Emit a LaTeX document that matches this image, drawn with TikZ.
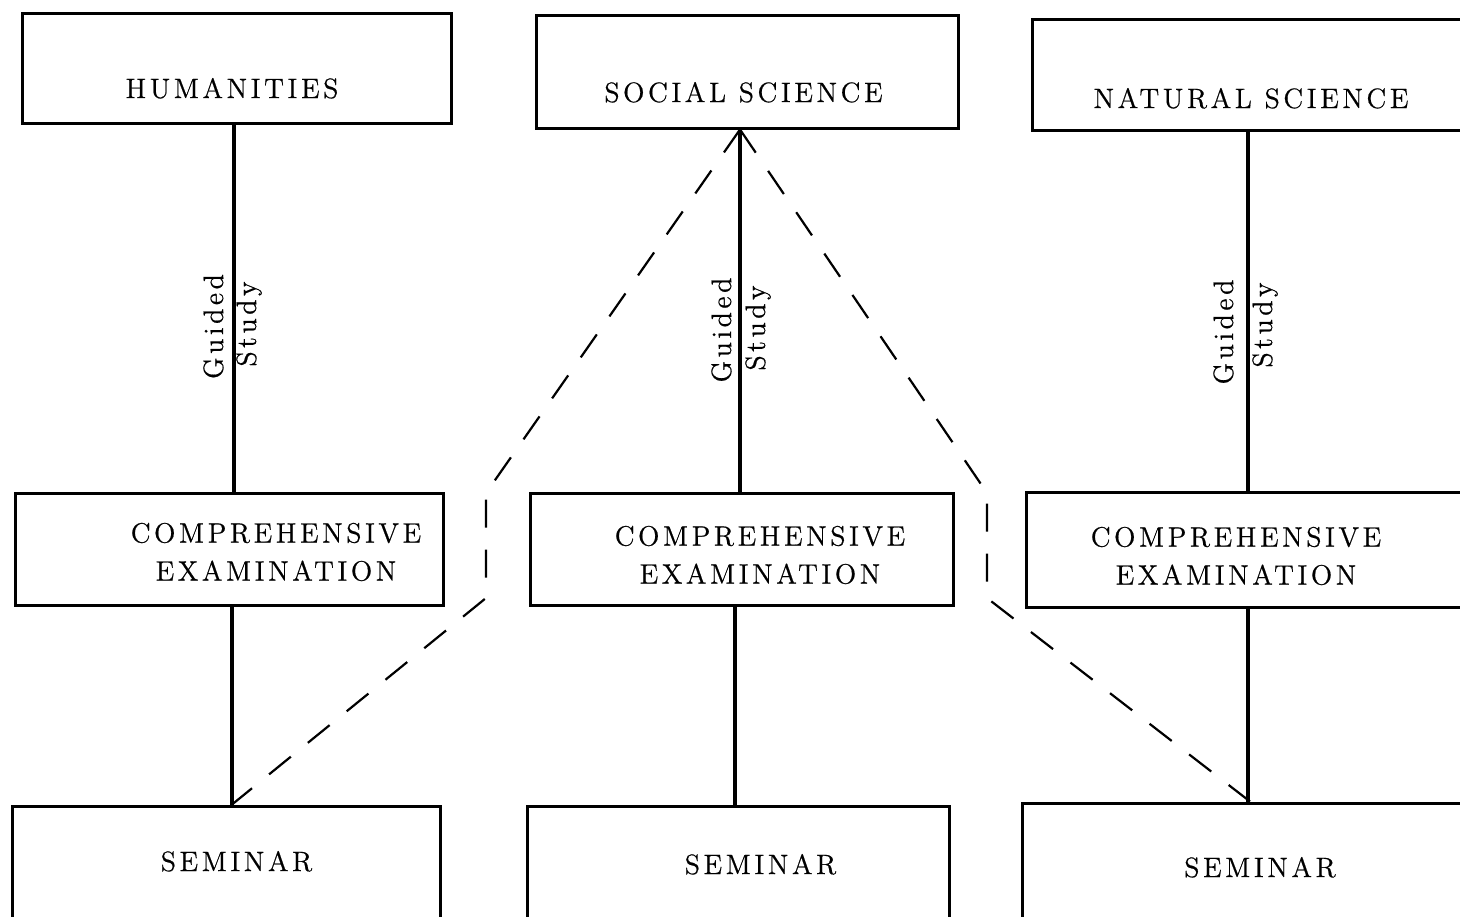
\documentclass[tikz,border=0pt]{standalone}
\usepackage{fontspec}
\newfontfamily\labfont{Latin Modern Roman}[LetterSpace=12.7,FakeBold=0.6]
\begin{document}
\begin{tikzpicture}[x=0.5pt,y=-0.5pt,
  box/.style={draw,line width=1.5pt,inner sep=0pt},
  lab/.style={inner sep=0pt,font={\labfont\fontsize{14}{19}\selectfont},align=center},
  conn/.style={line width=1.6pt},
  dashline/.style={line width=1.1pt,dash pattern=on 14pt off 11pt}]
\useasboundingbox (0,0) rectangle (1460,916);
\clip (0,0) rectangle (1460,916);
% column coordinates
\coordinate (hxa) at (234,0);
\coordinate (hxb) at (232,0);
\coordinate (sxa) at (740,0);
\coordinate (sxb) at (735,0);
\coordinate (nx) at (1248,0);
% boxes
\node[box,minimum width=214.5pt,minimum height=55pt] (h1) at (236.5,68) {};
\node[box,minimum width=211pt,minimum height=56.5pt] (s1) at (747,71.5) {};
\node[box,minimum width=216pt,minimum height=55.5pt] (n1) at (1248,74.5) {};
\node[box,minimum width=214pt,minimum height=56pt] (h2) at (229,549) {};
\node[box,minimum width=211.5pt,minimum height=56pt] (s2) at (741.5,549) {};
\node[box,minimum width=222pt,minimum height=57.5pt] (n2) at (1248,549.5) {};
\node[box,minimum width=214pt,minimum height=62pt] (h3) at (226,868) {};
\node[box,minimum width=211pt,minimum height=62pt] (s3) at (738,868) {};
\node[box,minimum width=226pt,minimum height=63.5pt] (n3) at (1248,866.5) {};
% texts
\node[lab,anchor=base] (th1) at (232,98) {HUMANITIES};
\node[lab,anchor=base] (ts1) at (743.5,102) {SOCIAL SCIENCE};
\node[lab,anchor=base] (tn1) at (1251,108) {NATURAL SCIENCE};
\node[lab] (th2) at (276,552) {COMPREHENSIVE\\EXAMINATION};
\node[lab] (ts2) at (760,555) {COMPREHENSIVE\\EXAMINATION};
\node[lab] (tn2) at (1236,556) {COMPREHENSIVE\\EXAMINATION};
\node[lab,anchor=base] (th3) at (236.5,871) {SEMINAR};
\node[lab,anchor=base] (ts3) at (760.5,874) {SEMINAR};
\node[lab,anchor=base] (tn3) at (1260,877) {SEMINAR};
% guided study labels
\node[lab,anchor=base,rotate=90] (gh) at (223,326.5) {Guided};
\node[lab,anchor=base,rotate=90] (sh) at (256,324) {Study};
\node[lab,anchor=base,rotate=90] (gs) at (731,330) {Guided};
\node[lab,anchor=base,rotate=90] (ss) at (765,328) {Study};
\node[lab,anchor=base,rotate=90] (gn) at (1233,332) {Guided};
\node[lab,anchor=base,rotate=90] (sn) at (1272,325) {Study};
% solid connectors
\draw[conn] (h1.south -| hxa) -- (h2.north -| hxa);
\draw[conn] (h2.south -| hxb) -- (h3.north -| hxb);
\draw[conn] (s1.south -| sxa) -- (s2.north -| sxa);
\draw[conn] (s2.south -| sxb) -- (s3.north -| sxb);
\draw[conn] (n1.south -| nx) -- (n2.north -| nx);
\draw[conn] (n2.south -| nx) -- (n3.north -| nx);
% dashed connectors
\coordinate (lk1) at (486,493);
\coordinate (lk2) at (486,598);
\coordinate (rk1) at (987,493);
\coordinate (rk2) at (987,598);
\coordinate (rend) at (1250,0);
\draw[dashline] (s1.south -| sxa) -- (lk1) -- (lk2) -- (h3.north -| hxb);
\draw[dashline] (s1.south -| sxa) -- (rk1) -- (rk2) -- (n3.north -| rend);
\end{tikzpicture}
\end{document}
